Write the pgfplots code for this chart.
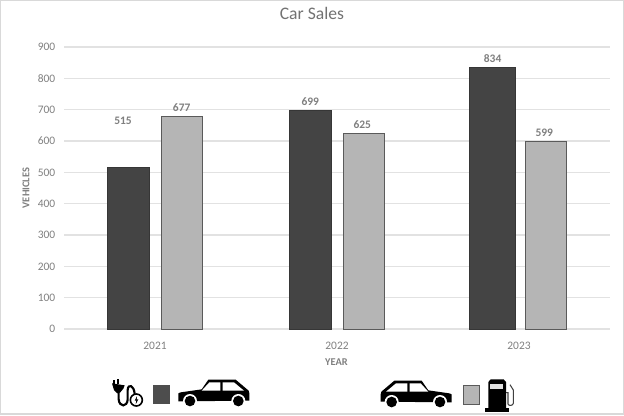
\documentclass[border=0pt]{standalone}
\usepackage{fontspec}
\setmainfont{Carlito}
\usepackage{pgfplots}
\pgfplotsset{compat=1.18}
\definecolor{txt}{HTML}{7F7F7F}
\definecolor{gridc}{HTML}{E2E2E2}
\definecolor{darkbar}{HTML}{444444}
\definecolor{lightbar}{HTML}{B5B5B5}
\definecolor{edgec}{HTML}{5A5A5A}
\definecolor{framec}{HTML}{D9D9D9}

% drawn in units of the 3x zoom crops
\newcommand{\caricon}{%
  \fill[black] (265,160) -- (272,157) -- (335,148) -- (355,119) -- (437,119) -- (476,152)
    -- (478,160) -- (478,182) -- (265,184) -- cycle;
  \fill[white] (335,152) -- (358,127) -- (391,127) -- (391,152) -- cycle;
  \fill[white] (398,127) -- (432,127) -- (462,152) -- (398,152) -- cycle;
  \foreach \cx in {300,445} {
    \fill[white] (\cx,183) circle[radius=21];
    \fill[black] (\cx,183) circle[radius=16];
  }%
}

\begin{document}
\begin{tikzpicture}
\useasboundingbox (0pt,0pt) rectangle (468pt,-311.25pt);
\draw[framec,line width=1.2pt] (0.4pt,-0.4pt) rectangle (467.6pt,-310.6pt);
\begin{axis}[
    at={(48pt,-246.75pt)},
    anchor=south west,
    scale only axis,
    width=409.5pt,
    height=211.5pt,
    ybar,
    ymin=0, ymax=900,
    xmin=-0.5, xmax=2.5,
    ytick={0,100,...,900},
    xtick={0,1,2},
    xticklabels={2021,2022,2023},
    ymajorgrids,
    grid style={gridc,line width=0.9pt},
    axis line style={draw=none},
    tick style={draw=none},
    font=\fontsize{8.6pt}{10pt}\selectfont,
    ticklabel style={text=txt},
    /pgf/number format/assume math mode=true,
    yticklabel style={xshift=-3pt},
    xticklabel style={yshift=-2pt},
    title={Car Sales},
    title style={at={(axis description cs:0.454,1.092)},anchor=center,
        font=\fontsize{13.2pt}{15pt}\selectfont,text=txt!90!black},
    xlabel={YEAR},
    ylabel={VEHICLES},
    every axis x label/.style={at={(axis description cs:0.499,-0.117)},anchor=center,
        font=\fontsize{7.8pt}{9pt}\selectfont\bfseries,text=txt},
    every axis y label/.style={at={(axis description cs:-0.0695,0.5)},anchor=center,rotate=90,
        font=\fontsize{7.8pt}{9pt}\selectfont\bfseries,text=txt},
    nodes near coords,
    point meta=y,
    visualization depends on={value \thisrow{dx} \as \dx},
    visualization depends on={value \thisrow{dy} \as \dy},
    every node near coord/.append style={
        font=\fontsize{8.6pt}{10pt}\selectfont\bfseries,text=txt,
        xshift=\dx pt,yshift=\dy pt},
]
% electric, 2021 and 2022
\addplot[fill=darkbar,draw=darkbar!80!black,line width=0.6pt,bar width=31.5pt,bar shift=-20pt]
  table[x=x,y=y] {
x y   dx   dy
0 515 -4   29
1 699 0    0
};
% electric, 2023 (wider bar in the original)
\addplot[fill=darkbar,draw=darkbar!80!black,line width=0.6pt,bar width=34.8pt,bar shift=-19.8pt]
  table[x=x,y=y] {
x y   dx dy
2 834 0  0
};
% petrol
\addplot[fill=lightbar,draw=edgec,line width=0.75pt,bar width=30.75pt,bar shift=20pt]
  table[x=x,y=y] {
x y   dx dy
0 677 0  0
1 625 -1 0
2 599 -1 0
};
\end{axis}
% legend icons, first crop
\begin{scope}[shift={(67.5pt,-255pt)},x=0.25pt,y=-0.25pt]
  \caricon
  \fill[darkbar!95!white] (190,135) rectangle (240,193);
  % plug
  \fill[black] (68,132) rectangle (74,120);
  \fill[black] (82,132) rectangle (88,118) ;
  \fill[black] (66,130) -- (104,136) -- (100,146) -- (90,158) -- (82,160) -- (72,150) -- cycle;
  \draw[black,line width=1.6pt] (86,158) -- (86,178) .. controls (88,202) and (112,202) .. (113,178)
     -- (113,150) .. controls (114,130) and (132,135) .. (134,162);
  \draw[black,line width=1.2pt,fill=white] (139,180) circle[radius=18];
  \fill[black] (141,168) -- (134,182) -- (139,182) -- (137,193) -- (145,178) -- (140,178) -- cycle;
\end{scope}
\begin{scope}[shift={(405pt,-255.75pt)},x=-0.25pt,y=-0.25pt]
  \caricon
\end{scope}
\begin{scope}[shift={(270pt,-255pt)},x=0.25pt,y=-0.25pt]
  \filldraw[fill=lightbar,draw=edgec,line width=0.75pt] (310,136) rectangle (358,193);
  % pump
  \fill[black] (385,205) -- (385,126) -- (392,118) -- (431,118) -- (438,126) -- (438,205) -- cycle;
  \fill[black] (375,205) rectangle (447,215);
  \fill[white!88!black] (391,133) rectangle (428,148);
  \draw[black!75,line width=0.8pt] (438,158) -- (444,158) -- (444,192) .. controls (446,198) and (458,198) .. (460,190)
     -- (460,150) -- (450,134);
\end{scope}
\end{tikzpicture}
\end{document}
